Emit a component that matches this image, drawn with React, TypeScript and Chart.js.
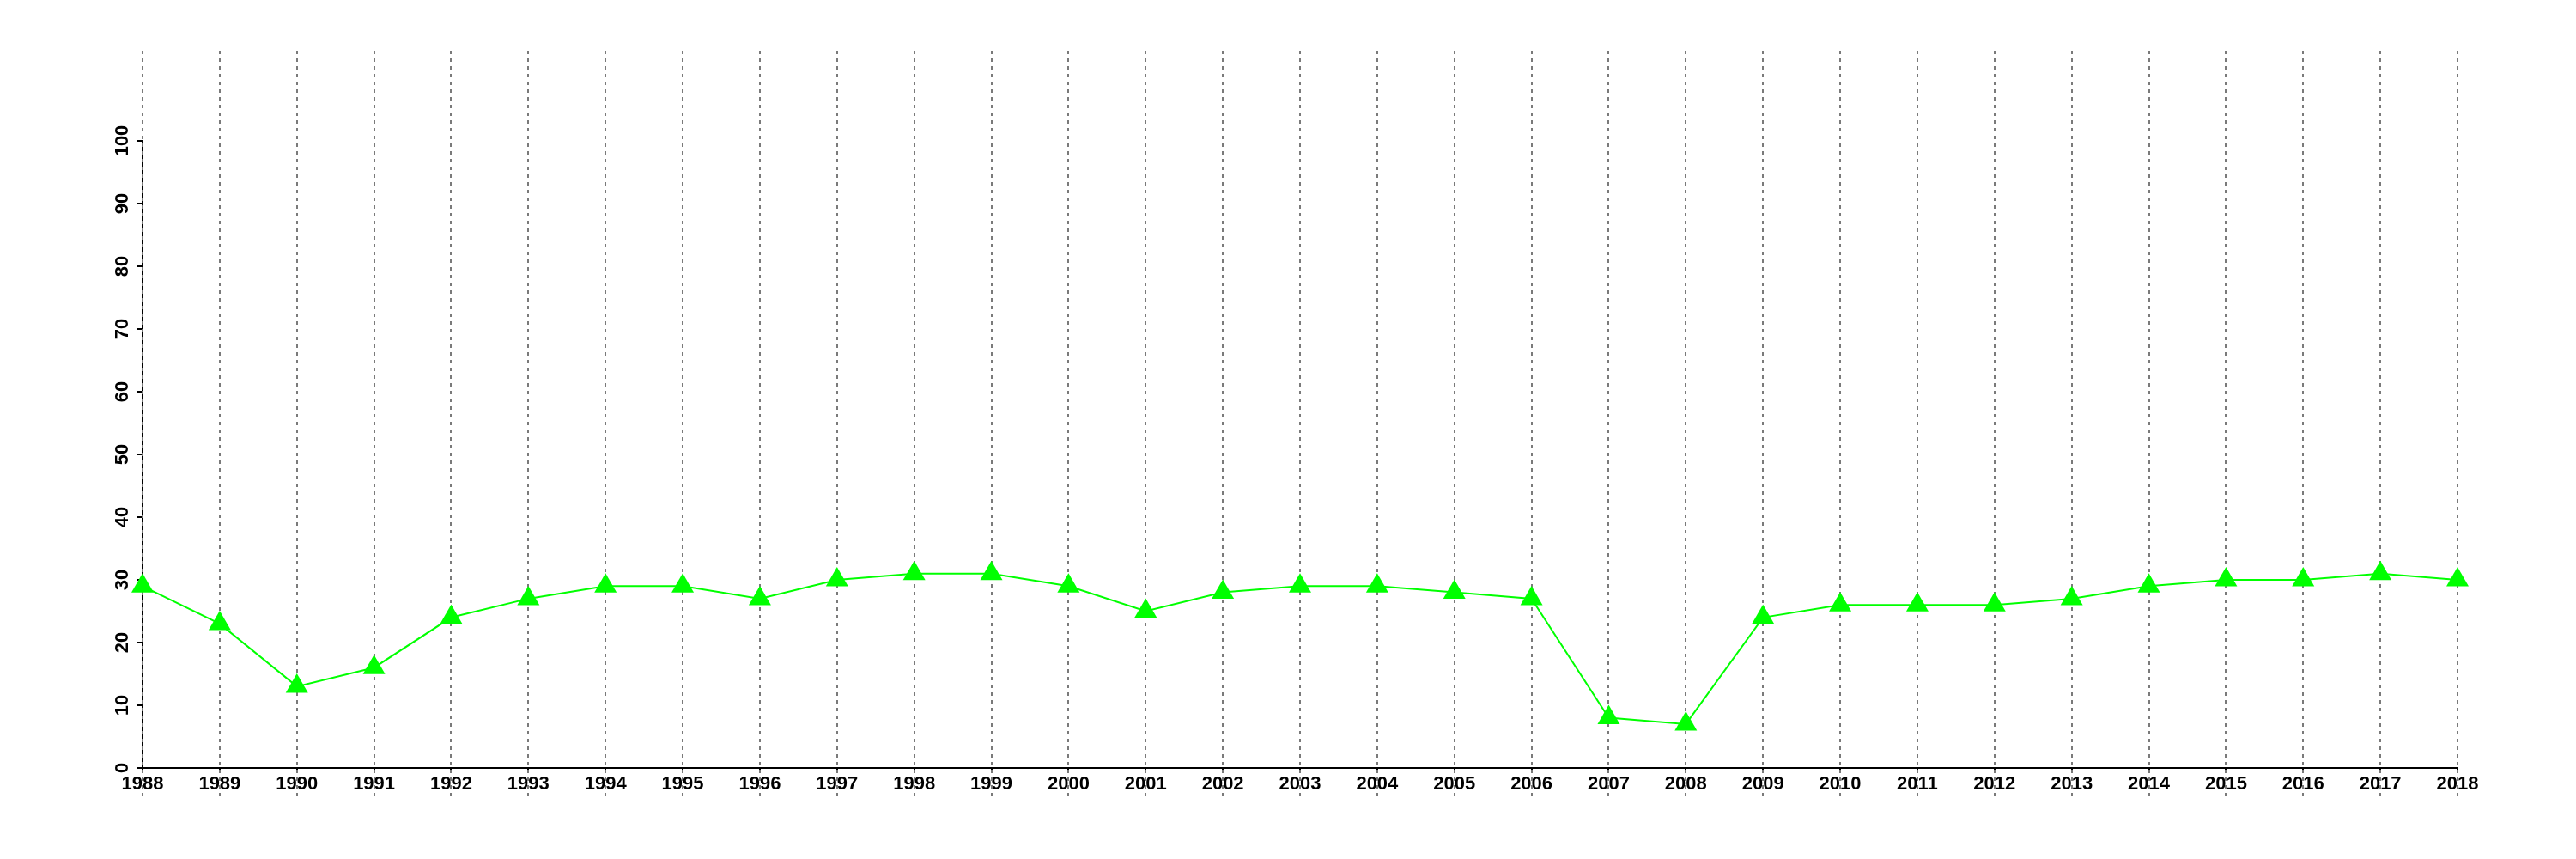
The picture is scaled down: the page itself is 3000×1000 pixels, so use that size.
import React, { useEffect, useRef } from "react";
import { Chart, registerables } from "chart.js";

Chart.register(...registerables);

const years = [
  "1988", "1989", "1990", "1991", "1992", "1993", "1994", "1995", "1996", "1997",
  "1998", "1999", "2000", "2001", "2002", "2003", "2004", "2005", "2006", "2007",
  "2008", "2009", "2010", "2011", "2012", "2013", "2014", "2015", "2016", "2017", "2018",
];
const values = [
  29, 23, 13, 16, 24, 27, 29, 29, 27, 30,
  31, 31, 29, 25, 28, 29, 29, 28, 27, 8,
  7, 24, 26, 26, 26, 27, 29, 30, 30, 31, 30,
];
const yMin = 0;
const yMax = 100;
const yStep = 10;

const FONT = { family: "'Liberation Sans', Arial, Helvetica, sans-serif", size: 22, weight: "bold" as const };

const extendedGrid = {
  id: "extendedGrid",
  beforeDatasetsDraw(chart: any) {
    const xs = chart.scales.x;
    const ctx = chart.ctx;
    ctx.save();
    ctx.strokeStyle = "#7a7a7a";
    ctx.lineWidth = 2;
    ctx.setLineDash([4, 5]);
    const n = xs.ticks.length;
    for (let i = 0; i < n; i++) {
      const px = Math.round(xs.getPixelForTick(i));
      ctx.beginPath();
      ctx.moveTo(px, 59);
      ctx.lineTo(px, 928);
      ctx.stroke();
    }
    ctx.restore();
  },
};

export default function App() {
  const ref = useRef<HTMLCanvasElement | null>(null);
  useEffect(() => {
    if (!ref.current) return;
    const chart = new Chart(ref.current, {
      type: "line",
      data: {
        labels: years,
        datasets: [
          {
            data: values,
            borderColor: "#00ff00",
            backgroundColor: "#00ff00",
            borderWidth: 2,
            pointStyle: "triangle",
            pointRadius: 15,
            pointBorderWidth: 0,
            pointBackgroundColor: "#00ff00",
            pointBorderColor: "#00ff00",
            tension: 0,
            clip: false as any,
          },
        ],
      },
      options: {
        responsive: false,
        animation: false,
        devicePixelRatio: 1,
        layout: { padding: { left: 0, right: 138, top: 164, bottom: 0 } },
        plugins: { legend: { display: false }, tooltip: { enabled: false } },
        scales: {
          x: {
            type: "category",
            offset: false,
            afterFit: (s: any) => { s.height = 106; },
            grid: { display: true, drawOnChartArea: false, drawTicks: true, tickLength: 6, color: "#000", lineWidth: 2 },
            border: { display: true, color: "#000", width: 2 },
            ticks: { color: "#000", font: FONT, autoSkip: false, maxRotation: 0, minRotation: 0, padding: 0 },
          },
          y: {
            min: yMin,
            max: yMax,
            afterFit: (s: any) => { s.width = 166; },
            grid: { display: true, drawOnChartArea: false, drawTicks: true, tickLength: 7, color: "#000", lineWidth: 2 },
            border: { display: true, color: "#000", width: 2 },
            ticks: { stepSize: yStep, color: "#000", font: FONT, minRotation: 90, maxRotation: 90, crossAlign: "center", padding: -2 },
          },
        },
      },
      plugins: [extendedGrid],
    });
    return () => chart.destroy();
  }, []);
  return (
    <div style={{ position: "absolute", left: 0, top: 0, width: 3000, height: 1000, background: "#fff" }}>
      <canvas ref={ref} width={3000} height={1000} style={{ display: "block", width: 3000, height: 1000 }} />
    </div>
  );
}
